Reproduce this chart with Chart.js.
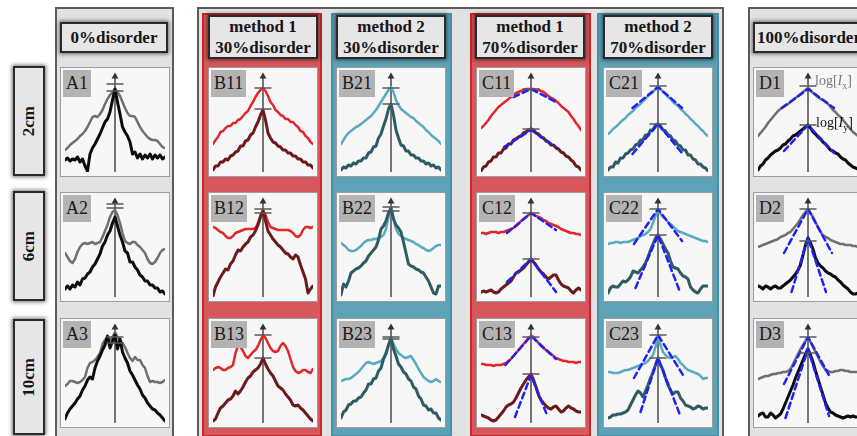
<!DOCTYPE html>
<html><head><meta charset="utf-8">
<script src="https://cdn.jsdelivr.net/npm/chart.js@4.4.0/dist/chart.umd.min.js"></script>
<style>
body{margin:0;width:857px;height:436px;overflow:hidden;background:#fff;position:relative;font-family:"Liberation Serif","DejaVu Serif",serif;}
.abs{position:absolute;box-sizing:border-box;}
.frame{background:#e2e2e2;border:2px solid #5c5c5c;}
.colR{background:#d6585c;border:2px solid #c7262b;}
.colB{background:#5ea2b8;border:2px solid #4690a8;}
.hdr{background:#e6e6e6;border:2px solid #2a2a2a;box-shadow:0 0 4px 1px rgba(0,0,0,0.55);font-weight:bold;font-size:17px;color:#151515;display:flex;align-items:center;justify-content:center;text-align:center;line-height:21px;}
.rowlab{background:#e6e6e6;border:2px solid #2a2a2a;box-shadow:0 0 4px 1px rgba(0,0,0,0.55);font-weight:bold;font-size:17px;color:#151515;display:flex;align-items:center;justify-content:center;}
.rowlab span{writing-mode:vertical-rl;transform:rotate(180deg);}
.plot{background:#f7f7f7;border:1px solid #9c9c9c;}
.plot canvas{position:absolute;left:0;top:0;}
.lab{position:absolute;left:2px;top:2px;background:#b3b3b3;font-size:18px;color:#1a1a1a;padding:0 3px;height:27px;line-height:27px;}
.logl{position:absolute;font-size:14px;white-space:nowrap;}
</style>
</head><body>
<script>
// ---------- data ----------
const xs = [-1,-0.95,-0.9,-0.85,-0.8,-0.75,-0.7,-0.65,-0.6,-0.55,-0.5,-0.45,-0.4,-0.35,-0.3,-0.25,-0.2,-0.15,-0.1,-0.05,0,0.05,0.1,0.15,0.2,0.25,0.3,0.35,0.4,0.45,0.5,0.55,0.6,0.65,0.7,0.75,0.8,0.85,0.9,0.95,1];

const colHeaders = ["0%disorder","method 1\n30%disorder","method 2\n30%disorder","method 1\n70%disorder","method 2\n70%disorder","100%disorder"];
const rowLabels = ["2cm","6cm","10cm"];
const panelNames = [["A1","A2","A3"],["B11","B12","B13"],["B21","B22","B23"],["C11","C12","C13"],["C21","C22","C23"],["D1","D2","D3"]];

const A1_up  = [0.22,0.24,0.27,0.29,0.31,0.33,0.36,0.38,0.41,0.45,0.50,0.55,0.56,0.55,0.58,0.62,0.68,0.73,0.77,0.80,0.83,0.80,0.76,0.70,0.64,0.59,0.56,0.56,0.55,0.50,0.45,0.41,0.38,0.35,0.33,0.32,0.32,0.31,0.28,0.25,0.24];
const A1_low = [0.12,0.14,0.11,0.13,0.12,0.15,0.10,0.13,0.06,0.01,0.18,0.24,0.28,0.33,0.38,0.44,0.50,0.53,0.60,0.72,0.83,0.70,0.58,0.45,0.40,0.36,0.30,0.18,0.20,0.14,0.18,0.13,0.17,0.14,0.18,0.13,0.17,0.14,0.17,0.13,0.15];
const A2_up  = [0.44,0.40,0.36,0.34,0.38,0.45,0.50,0.53,0.54,0.53,0.54,0.55,0.53,0.54,0.55,0.60,0.66,0.72,0.80,0.85,0.87,0.82,0.74,0.64,0.56,0.54,0.53,0.55,0.55,0.52,0.50,0.47,0.44,0.38,0.34,0.33,0.35,0.39,0.44,0.47,0.48];
const A2_low = [0.08,0.11,0.08,0.12,0.10,0.15,0.12,0.18,0.19,0.23,0.25,0.30,0.33,0.38,0.43,0.51,0.55,0.62,0.66,0.74,0.80,0.71,0.62,0.55,0.46,0.44,0.35,0.35,0.30,0.27,0.22,0.20,0.16,0.16,0.12,0.12,0.09,0.09,0.05,0.06,0.03];
const A3_up  = [0.37,0.39,0.42,0.42,0.41,0.40,0.41,0.43,0.46,0.55,0.60,0.61,0.63,0.66,0.70,0.79,0.83,0.86,0.83,0.86,0.91,0.86,0.83,0.80,0.76,0.70,0.65,0.62,0.66,0.63,0.63,0.58,0.55,0.47,0.41,0.42,0.41,0.41,0.40,0.41,0.43];
const A3_low = [0.04,0.10,0.14,0.17,0.20,0.24,0.27,0.33,0.37,0.43,0.46,0.44,0.55,0.62,0.67,0.73,0.78,0.87,0.75,0.82,0.88,0.74,0.84,0.71,0.65,0.60,0.52,0.48,0.43,0.38,0.34,0.28,0.25,0.20,0.17,0.14,0.13,0.10,0.08,0.05,0.02];

const B11_up  = [0.28,0.32,0.35,0.40,0.41,0.44,0.46,0.46,0.49,0.49,0.52,0.53,0.56,0.59,0.61,0.66,0.70,0.75,0.79,0.82,0.84,0.81,0.76,0.70,0.67,0.62,0.60,0.57,0.56,0.53,0.53,0.50,0.50,0.47,0.45,0.41,0.40,0.36,0.34,0.30,0.28];
const B11_low = [0.02,0.06,0.06,0.10,0.10,0.13,0.12,0.16,0.17,0.20,0.21,0.26,0.26,0.31,0.32,0.37,0.39,0.45,0.50,0.57,0.62,0.52,0.39,0.34,0.30,0.29,0.26,0.25,0.22,0.22,0.19,0.19,0.16,0.16,0.13,0.13,0.10,0.10,0.07,0.07,0.04];
const B12_up  = [0.70,0.69,0.67,0.65,0.64,0.61,0.59,0.59,0.61,0.64,0.65,0.66,0.67,0.68,0.68,0.68,0.68,0.69,0.74,0.82,0.87,0.82,0.75,0.70,0.69,0.68,0.67,0.67,0.67,0.67,0.67,0.66,0.64,0.61,0.60,0.62,0.67,0.70,0.70,0.69,0.70];
const B12_low = [0.01,0.10,0.15,0.20,0.24,0.28,0.27,0.33,0.36,0.42,0.47,0.46,0.50,0.53,0.55,0.60,0.62,0.66,0.72,0.80,0.86,0.76,0.66,0.62,0.58,0.55,0.52,0.50,0.47,0.44,0.43,0.40,0.38,0.42,0.40,0.32,0.25,0.18,0.04,0.08,0.11];
const B13_up  = [0.53,0.55,0.56,0.55,0.53,0.53,0.55,0.56,0.58,0.70,0.77,0.76,0.72,0.67,0.65,0.68,0.71,0.73,0.77,0.83,0.88,0.85,0.80,0.75,0.72,0.71,0.72,0.77,0.80,0.77,0.72,0.64,0.56,0.52,0.50,0.51,0.53,0.53,0.51,0.50,0.54];
const B13_low = [0.02,0.04,0.10,0.15,0.17,0.20,0.23,0.24,0.27,0.32,0.29,0.32,0.36,0.41,0.45,0.47,0.51,0.53,0.55,0.59,0.65,0.59,0.54,0.50,0.47,0.42,0.37,0.35,0.33,0.29,0.26,0.23,0.18,0.17,0.18,0.15,0.13,0.10,0.07,0.04,0.02];

const B21_up  = [0.28,0.32,0.36,0.39,0.41,0.43,0.45,0.46,0.48,0.50,0.52,0.54,0.56,0.59,0.62,0.66,0.70,0.74,0.78,0.82,0.85,0.80,0.72,0.67,0.63,0.61,0.59,0.57,0.55,0.54,0.51,0.49,0.47,0.45,0.42,0.40,0.37,0.35,0.33,0.31,0.28];
const B21_low = [0.02,0.05,0.04,0.07,0.06,0.09,0.08,0.11,0.11,0.14,0.14,0.19,0.20,0.25,0.26,0.34,0.38,0.46,0.53,0.63,0.68,0.57,0.42,0.34,0.27,0.26,0.21,0.21,0.17,0.17,0.14,0.14,0.11,0.11,0.08,0.09,0.06,0.07,0.04,0.05,0.02];
const B22_up  = [0.54,0.52,0.50,0.47,0.46,0.46,0.47,0.49,0.51,0.54,0.56,0.57,0.57,0.58,0.58,0.59,0.60,0.62,0.68,0.80,0.90,0.78,0.68,0.63,0.61,0.59,0.58,0.57,0.56,0.55,0.53,0.52,0.50,0.49,0.47,0.46,0.47,0.49,0.51,0.52,0.52];
const B22_low = [0.02,0.13,0.10,0.16,0.24,0.26,0.28,0.29,0.31,0.34,0.36,0.41,0.44,0.47,0.50,0.57,0.68,0.71,0.76,0.84,0.89,0.78,0.72,0.69,0.65,0.55,0.44,0.33,0.31,0.30,0.28,0.27,0.25,0.24,0.20,0.16,0.10,0.04,0.03,0.11,0.11];
const B23_up  = [0.42,0.43,0.44,0.44,0.45,0.47,0.49,0.51,0.54,0.57,0.60,0.61,0.60,0.59,0.60,0.61,0.62,0.65,0.71,0.78,0.85,0.79,0.74,0.70,0.68,0.66,0.65,0.66,0.67,0.63,0.59,0.54,0.50,0.46,0.44,0.42,0.41,0.42,0.44,0.42,0.41];
const B23_low = [0.05,0.11,0.13,0.18,0.19,0.22,0.22,0.25,0.26,0.30,0.33,0.39,0.39,0.44,0.45,0.52,0.55,0.64,0.69,0.78,0.85,0.74,0.67,0.59,0.56,0.51,0.49,0.44,0.42,0.36,0.34,0.27,0.24,0.18,0.17,0.13,0.14,0.10,0.10,0.05,0.03];

const C11_up  = [0.44,0.46,0.49,0.52,0.56,0.59,0.62,0.65,0.67,0.69,0.71,0.73,0.75,0.77,0.79,0.80,0.81,0.82,0.83,0.83,0.83,0.83,0.82,0.82,0.81,0.80,0.78,0.76,0.74,0.73,0.71,0.69,0.66,0.64,0.62,0.60,0.56,0.53,0.49,0.46,0.42];
const C11_low = [0.01,0.05,0.06,0.10,0.11,0.15,0.15,0.19,0.19,0.23,0.24,0.28,0.28,0.32,0.33,0.35,0.36,0.39,0.40,0.42,0.43,0.42,0.39,0.38,0.35,0.34,0.31,0.30,0.27,0.27,0.24,0.23,0.20,0.19,0.16,0.15,0.12,0.10,0.06,0.05,0.02];
const C12_up  = [0.64,0.64,0.63,0.64,0.65,0.65,0.65,0.64,0.65,0.65,0.66,0.67,0.68,0.69,0.71,0.73,0.76,0.78,0.80,0.82,0.84,0.83,0.81,0.80,0.79,0.77,0.76,0.74,0.73,0.72,0.71,0.70,0.68,0.67,0.66,0.65,0.64,0.64,0.63,0.63,0.62];
const C12_low = [0.05,0.06,0.05,0.06,0.07,0.05,0.04,0.05,0.08,0.10,0.12,0.14,0.16,0.20,0.24,0.25,0.27,0.29,0.32,0.35,0.38,0.35,0.32,0.28,0.25,0.23,0.20,0.18,0.20,0.22,0.22,0.17,0.13,0.11,0.10,0.09,0.06,0.04,0.07,0.09,0.07];
const C13_up  = [0.59,0.59,0.58,0.58,0.58,0.57,0.58,0.58,0.58,0.59,0.60,0.62,0.64,0.67,0.70,0.73,0.76,0.79,0.82,0.85,0.87,0.86,0.83,0.80,0.77,0.75,0.73,0.71,0.69,0.67,0.65,0.64,0.63,0.62,0.62,0.61,0.61,0.61,0.60,0.61,0.61];
const C13_low = [0.08,0.07,0.06,0.05,0.03,0.02,0.03,0.06,0.09,0.12,0.16,0.18,0.19,0.21,0.25,0.30,0.35,0.39,0.43,0.46,0.49,0.43,0.36,0.28,0.23,0.20,0.17,0.15,0.14,0.16,0.17,0.14,0.11,0.12,0.15,0.17,0.15,0.14,0.12,0.11,0.11];

const C21_up  = [0.38,0.40,0.43,0.45,0.47,0.50,0.52,0.54,0.57,0.59,0.61,0.64,0.66,0.68,0.71,0.73,0.76,0.78,0.80,0.83,0.85,0.83,0.80,0.78,0.75,0.73,0.70,0.68,0.66,0.63,0.61,0.58,0.56,0.53,0.51,0.48,0.46,0.43,0.41,0.38,0.36];
const C21_low = [0.02,0.05,0.05,0.10,0.09,0.14,0.14,0.18,0.19,0.22,0.23,0.27,0.28,0.32,0.32,0.37,0.37,0.42,0.42,0.47,0.48,0.46,0.42,0.41,0.37,0.36,0.32,0.31,0.27,0.26,0.22,0.22,0.17,0.17,0.13,0.12,0.08,0.08,0.05,0.04,0.01];
const C22_up  = [0.53,0.54,0.54,0.55,0.55,0.54,0.55,0.55,0.55,0.56,0.57,0.58,0.59,0.61,0.62,0.63,0.65,0.68,0.74,0.81,0.88,0.83,0.80,0.78,0.75,0.73,0.71,0.68,0.66,0.65,0.64,0.63,0.62,0.61,0.60,0.59,0.58,0.57,0.56,0.56,0.55];
const C22_low = [0.04,0.09,0.11,0.10,0.10,0.13,0.16,0.15,0.17,0.20,0.26,0.25,0.24,0.27,0.30,0.34,0.40,0.47,0.53,0.59,0.62,0.58,0.53,0.48,0.44,0.36,0.30,0.29,0.28,0.24,0.21,0.20,0.18,0.10,0.07,0.05,0.04,0.08,0.11,0.11,0.11];
const C23_up  = [0.51,0.51,0.50,0.50,0.50,0.51,0.52,0.53,0.53,0.54,0.55,0.56,0.57,0.58,0.59,0.60,0.62,0.65,0.68,0.76,0.88,0.78,0.71,0.68,0.66,0.65,0.66,0.67,0.64,0.60,0.58,0.55,0.53,0.52,0.51,0.50,0.49,0.47,0.44,0.45,0.45];
const C23_low = [0.05,0.06,0.08,0.08,0.09,0.09,0.10,0.11,0.13,0.18,0.23,0.28,0.32,0.30,0.26,0.32,0.38,0.45,0.51,0.58,0.65,0.58,0.53,0.45,0.38,0.33,0.29,0.31,0.31,0.25,0.22,0.18,0.17,0.16,0.14,0.15,0.17,0.16,0.14,0.15,0.15];

const D1_up  = [0.36,0.39,0.42,0.45,0.49,0.52,0.55,0.58,0.61,0.63,0.65,0.67,0.68,0.70,0.72,0.74,0.76,0.78,0.80,0.82,0.84,0.82,0.79,0.77,0.75,0.73,0.72,0.70,0.68,0.65,0.62,0.60,0.57,0.55,0.52,0.49,0.46,0.43,0.40,0.38,0.36];
const D1_low = [0.02,0.06,0.08,0.12,0.14,0.17,0.19,0.21,0.22,0.24,0.27,0.28,0.31,0.33,0.36,0.37,0.39,0.41,0.43,0.45,0.47,0.44,0.40,0.38,0.35,0.33,0.30,0.28,0.25,0.22,0.21,0.19,0.18,0.15,0.13,0.12,0.09,0.07,0.05,0.04,0.03];
const D2_up  = [0.50,0.51,0.52,0.53,0.54,0.55,0.56,0.57,0.58,0.60,0.61,0.62,0.64,0.65,0.68,0.71,0.74,0.78,0.82,0.85,0.88,0.84,0.80,0.75,0.70,0.65,0.62,0.60,0.59,0.57,0.56,0.55,0.54,0.53,0.53,0.52,0.52,0.52,0.51,0.51,0.50];
const D2_low = [0.11,0.10,0.08,0.11,0.10,0.08,0.10,0.11,0.09,0.09,0.11,0.13,0.15,0.17,0.20,0.23,0.27,0.32,0.42,0.52,0.59,0.54,0.48,0.39,0.34,0.31,0.29,0.26,0.24,0.23,0.21,0.20,0.17,0.15,0.12,0.10,0.08,0.05,0.03,0.03,0.04];
const D3_up  = [0.44,0.45,0.46,0.47,0.47,0.48,0.49,0.49,0.50,0.50,0.51,0.51,0.52,0.54,0.59,0.64,0.69,0.74,0.78,0.82,0.86,0.81,0.76,0.71,0.66,0.61,0.57,0.53,0.52,0.51,0.51,0.52,0.52,0.53,0.53,0.52,0.52,0.51,0.51,0.51,0.51];
const D3_low = [0.07,0.09,0.10,0.06,0.06,0.10,0.08,0.05,0.07,0.09,0.14,0.20,0.26,0.32,0.38,0.45,0.51,0.57,0.63,0.69,0.74,0.68,0.61,0.52,0.44,0.36,0.28,0.20,0.15,0.11,0.10,0.08,0.07,0.06,0.05,0.06,0.07,0.06,0.07,0.06,0.06];

// peak marker levels [upper, lower]
const A1_ticks=[0.88,0.81], A2_ticks=[0.93,0.89], A3_ticks=[0.86,0.80];
const B11_ticks=[0.84,0.63], B12_ticks=[0.88,0.84], B13_ticks=[0.88,0.65];
const B21_ticks=[0.84,0.68], B22_ticks=[0.90,0.86], B23_ticks=[0.86,0.84];
const C11_ticks=[0.83,0.43], C12_ticks=[0.84,0.38], C13_ticks=[0.86,0.49];
const C21_ticks=[0.86,0.48], C22_ticks=[0.88,0.62], C23_ticks=[0.88,0.65];
const D1_ticks=[0.86,0.47], D2_ticks=[0.88,0.56], D3_ticks=[0.86,0.70];

// linear fits: [x, y] vertices
const C11_fitUp=[[-0.35,0.75],[0,0.83],[0.5,0.70]], C11_fitLow=[[-0.54,0.25],[0,0.42],[0.5,0.25]];
const C12_fitUp=[[-0.48,0.64],[0,0.84],[0.5,0.67]], C12_fitLow=[[-0.48,0.15],[0,0.38],[0.5,0.05]];
const C13_fitUp=[[-0.51,0.58],[0,0.87],[0.5,0.64]], C13_fitLow=[[-0.32,0.06],[0,0.48],[0.32,0.08]];
const C21_fitUp=[[-0.51,0.64],[0,0.85],[0.48,0.64]], C21_fitLow=[[-0.51,0.18],[0,0.48],[0.48,0.19]];
const C22_fitUp=[[-0.48,0.53],[0,0.88],[0.48,0.56]], C22_fitLow=[[-0.45,0.09],[0,0.62],[0.44,0.05]];
const C23_fitUp=[[-0.48,0.45],[0,0.88],[0.5,0.48]], C23_fitLow=[[-0.35,0.11],[0,0.65],[0.44,0.08]];
const D1_fitUp=[[-0.52,0.64],[0,0.83],[0.52,0.64]], D1_fitLow=[[-0.48,0.21],[0,0.47],[0.52,0.19]];
const D2_fitUp=[[-0.48,0.44],[0,0.88],[0.48,0.44]], D2_fitLow=[[-0.33,0.05],[0,0.59],[0.36,0.05]];
const D3_fitUp=[[-0.48,0.39],[0,0.86],[0.45,0.45]], D3_fitLow=[[-0.45,0.05],[0,0.74],[0.42,0.07]];

// ---------- styles / layout ----------
const STY = {
  A:{up:'#707070', low:'#0d0d0d'}, B1:{up:'#e3262b', low:'#6b1b1b'}, B2:{up:'#5aaac2', low:'#2f5c64'},
  C1:{up:'#e3262b', low:'#6b1b1b'}, C2:{up:'#5aaac2', low:'#2f5c64'}, D:{up:'#707070', low:'#0d0d0d'}
};
const colKeys = ['A','B1','B2','C1','C2','D'];
const colX = {A:60, B1:208, B2:336, C1:476, C2:603, D:753};
const rowY = [67,192,318];
const series = {
  A:[[A1_up,A1_low,A1_ticks],[A2_up,A2_low,A2_ticks],[A3_up,A3_low,A3_ticks]],
  B1:[[B11_up,B11_low,B11_ticks],[B12_up,B12_low,B12_ticks],[B13_up,B13_low,B13_ticks]],
  B2:[[B21_up,B21_low,B21_ticks],[B22_up,B22_low,B22_ticks],[B23_up,B23_low,B23_ticks]],
  C1:[[C11_up,C11_low,C11_ticks,C11_fitUp,C11_fitLow],[C12_up,C12_low,C12_ticks,C12_fitUp,C12_fitLow],[C13_up,C13_low,C13_ticks,C13_fitUp,C13_fitLow]],
  C2:[[C21_up,C21_low,C21_ticks,C21_fitUp,C21_fitLow],[C22_up,C22_low,C22_ticks,C22_fitUp,C22_fitLow],[C23_up,C23_low,C23_ticks,C23_fitUp,C23_fitLow]],
  D:[[D1_up,D1_low,D1_ticks,D1_fitUp,D1_fitLow],[D2_up,D2_low,D2_ticks,D2_fitUp,D2_fitLow],[D3_up,D3_low,D3_ticks,D3_fitUp,D3_fitLow]]
};

function box(cls, l, t, w, h, html){
  const d=document.createElement('div'); d.className='abs '+cls;
  d.style.left=l+'px'; d.style.top=t+'px'; d.style.width=w+'px'; d.style.height=h+'px';
  if(html!==undefined) d.innerHTML=html;
  document.body.appendChild(d); return d;
}
// frames
box('frame',55,7,119,445);
box('frame',197,7,527,445);
box('frame',748,7,200,445);
box('colR',202,13,120,424);
box('colB',331,13,121,424);
box('colR',470,13,121,424);
box('colB',597,13,122,424);
// headers
const hdrPos = [[60,22,108,31],[208,15,110,44],[336,15,110,44],[475,15,110,44],[603,15,110,44],[753,22,112,31]];
colHeaders.forEach((t,i)=>{const p=hdrPos[i]; box('hdr',p[0],p[1],p[2],p[3],t.replace('\n','<br>'));});
// row labels
const rowPos=[[13,66,32,110],[13,191,32,110],[13,319,32,116]];
rowLabels.forEach((t,i)=>{const p=rowPos[i]; box('rowlab',p[0],p[1],p[2],p[3],'<span>'+t+'</span>');});

const pts = arr => xs.map((x,i)=>({x:x, y:arr[i]}));
const pairPts = arr => arr.map(v=>({x:v[0], y:v[1]}));

colKeys.forEach((ck,ci)=>{
  series[ck].forEach((s,ri)=>{
    const plot = box('plot', colX[ck], rowY[ri], 110, 110);
    const cv = document.createElement('canvas'); cv.width=108; cv.height=108;
    cv.style.width='108px'; cv.style.height='108px';
    plot.appendChild(cv);
    const lab=document.createElement('div'); lab.className='lab'; lab.textContent=panelNames[ci][ri]; plot.appendChild(lab);
    const ds=[];
    ds.push({data:[{x:0,y:0},{x:0,y:0.955}], borderColor:'#4a4a4a', borderWidth:1.5, pointRadius:[0,4], pointStyle:'triangle', pointBackgroundColor:'#333', pointBorderWidth:0, order:10});
    ds.push({data:pts(s[0]), borderColor:STY[ck].up, borderWidth:2.5, order:8});
    ds.push({data:pts(s[1]), borderColor:STY[ck].low, borderWidth:3, order:7});
    if(s[3]){
      ds.push({data:pairPts(s[3]), borderColor:'#2121f5', borderWidth:2.5, borderDash:[6,4], order:3});
      ds.push({data:pairPts(s[4]), borderColor:'#2121f5', borderWidth:2.5, borderDash:[6,4], order:3});
    }
    s[2].forEach(t=>ds.push({data:[{x:-0.16,y:t},{x:0.16,y:t}], borderColor:'#5a5a5a', borderWidth:1.5, order:1}));
    new Chart(cv,{type:'line', data:{datasets:ds}, options:{
      responsive:false, animation:false, devicePixelRatio:1, events:[],
      layout:{padding:0},
      plugins:{legend:{display:false}, tooltip:{enabled:false}},
      elements:{line:{tension:0, fill:false, borderJoinStyle:'round', borderCapStyle:'round'}, point:{radius:0}},
      scales:{x:{type:'linear',min:-1,max:1,display:false}, y:{type:'linear',min:0,max:1,display:false}}
    }});
  });
});
// D1 annotations
const lx=document.createElement('div'); lx.className='logl'; lx.style.left='815px'; lx.style.top='73px'; lx.style.color='#777';
lx.innerHTML='log[<i>I</i><sub style="font-size:10px">x</sub>]'; document.body.appendChild(lx);
const ly=document.createElement('div'); ly.className='logl'; ly.style.left='816px'; ly.style.top='115px'; ly.style.color='#111';
ly.innerHTML='log[<i>I</i><sub style="font-size:10px">y</sub>]'; document.body.appendChild(ly);
</script>
</body></html>
